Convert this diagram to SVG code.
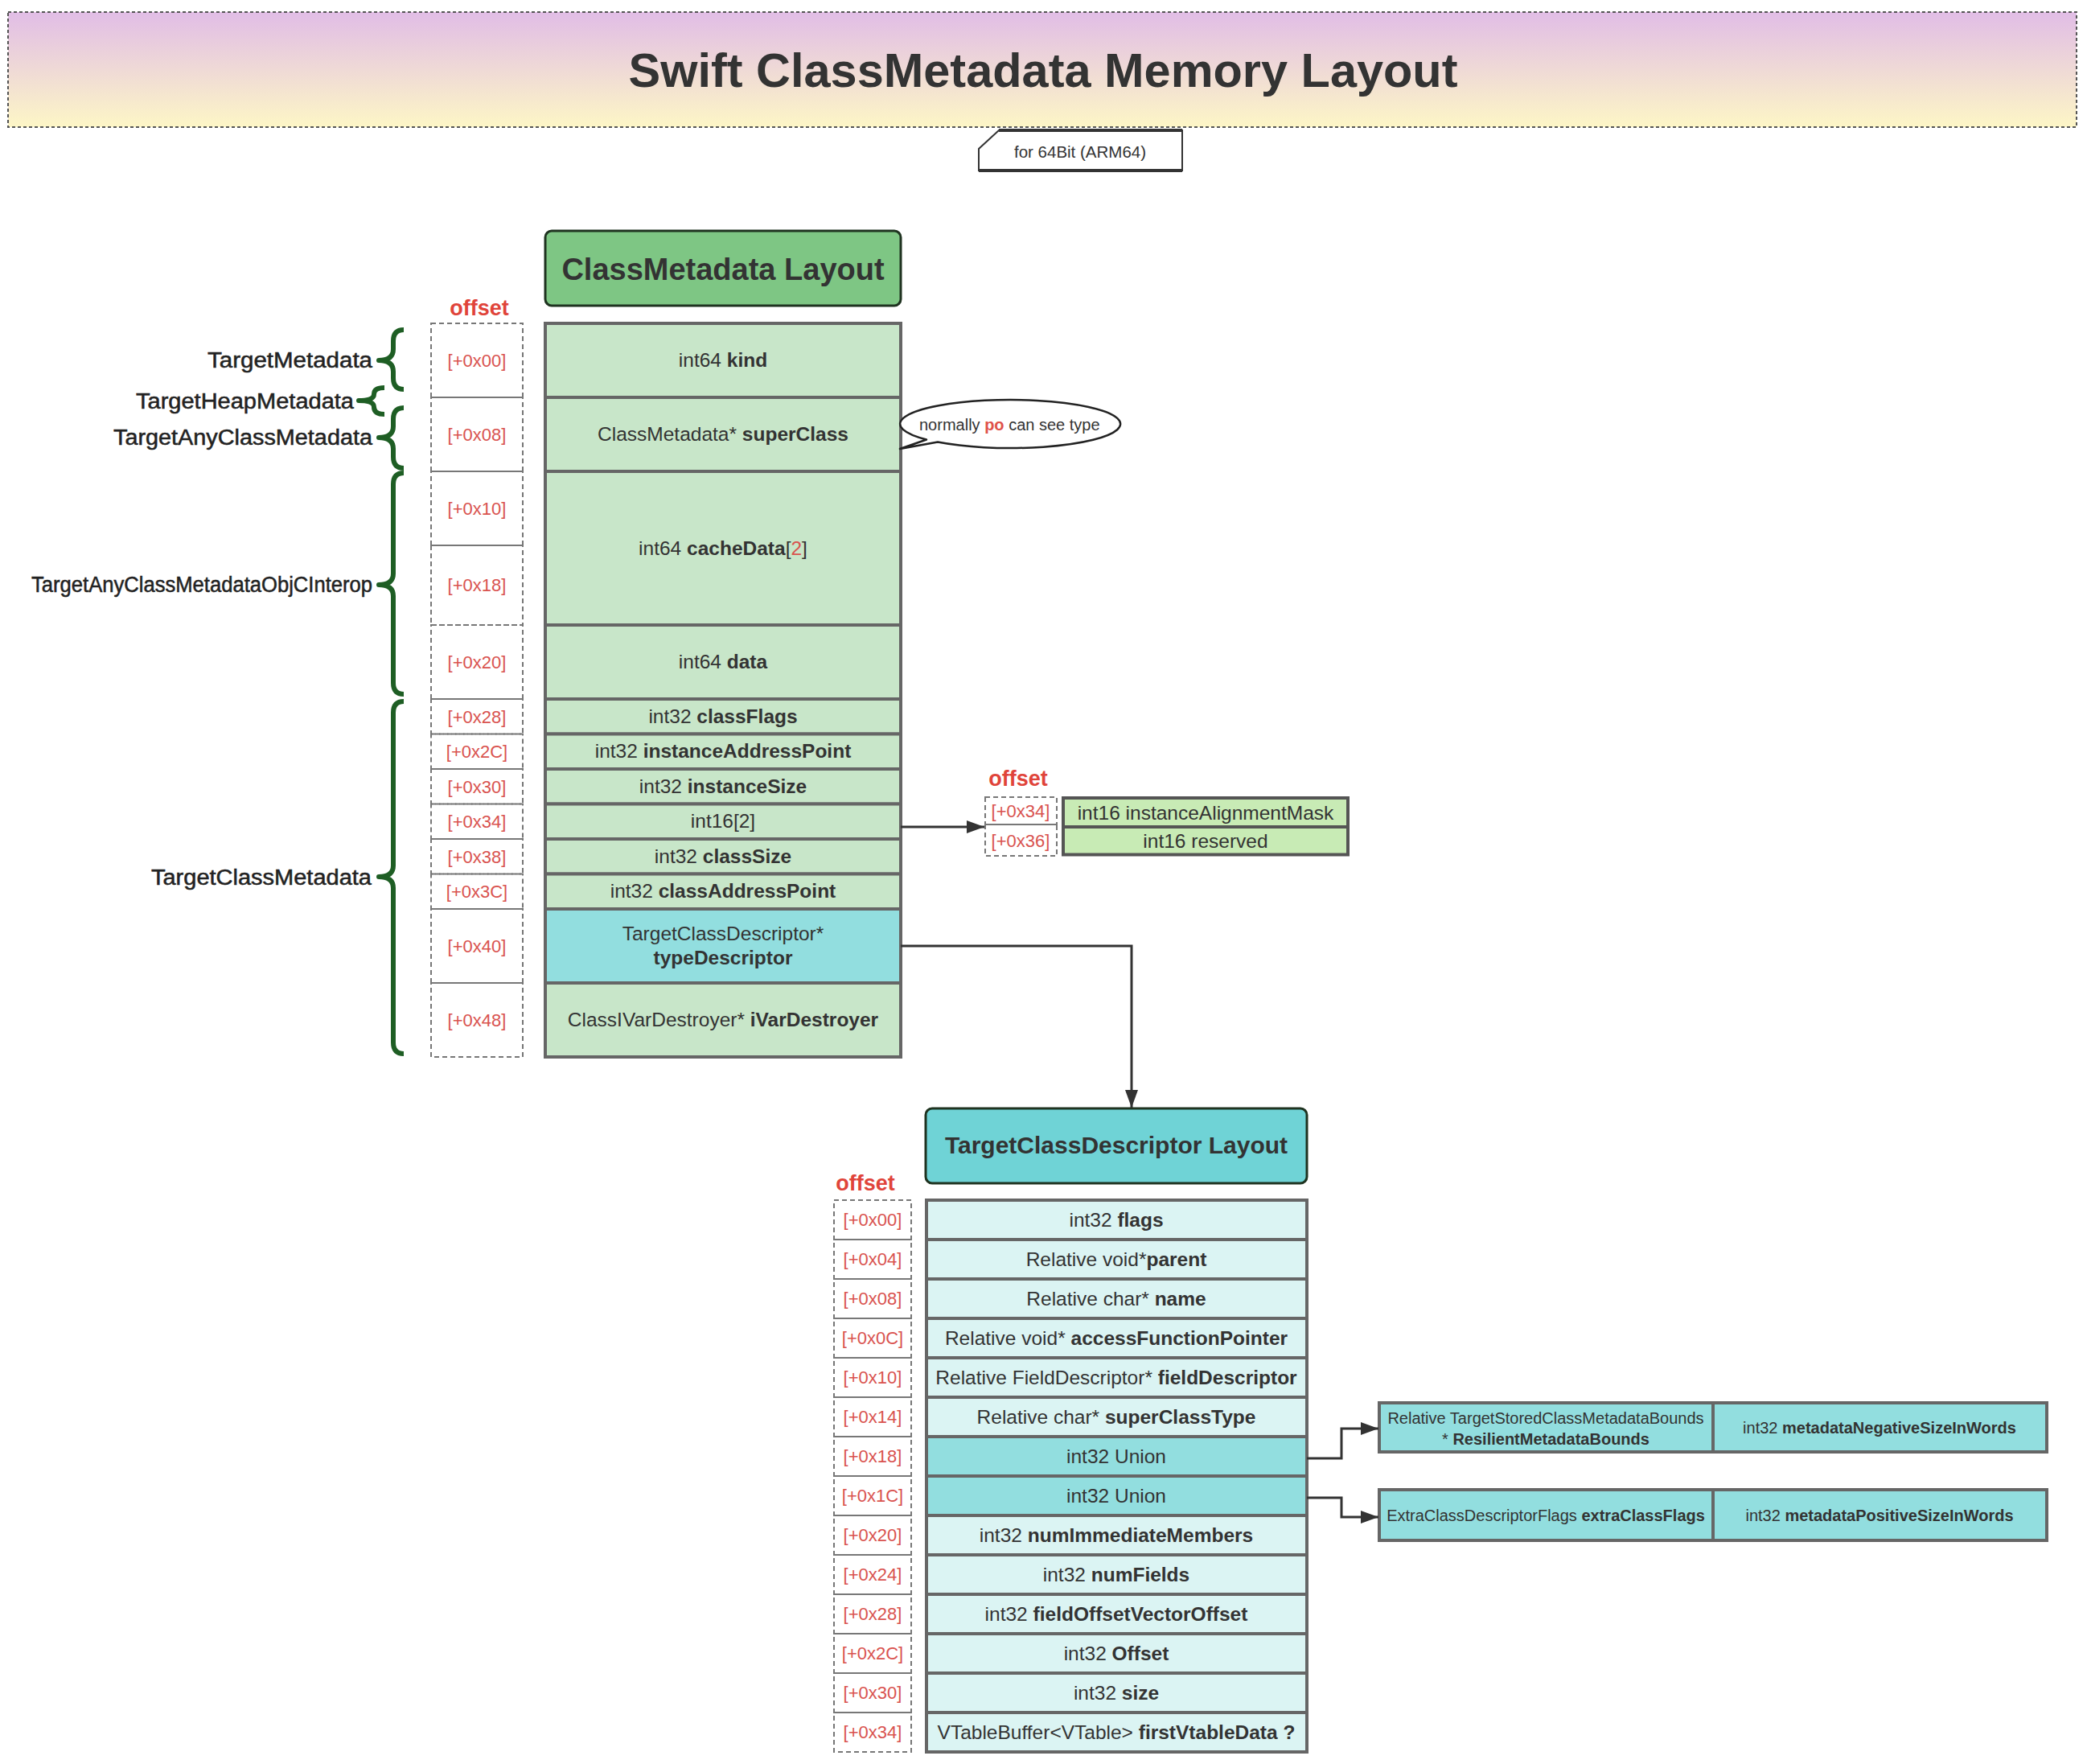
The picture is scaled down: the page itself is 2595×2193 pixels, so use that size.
<svg xmlns="http://www.w3.org/2000/svg" width="2595" height="2193" viewBox="0 0 2595 2193">
<defs>
<linearGradient id="tg" x1="0" y1="0" x2="0" y2="1">
<stop offset="0" stop-color="#E1BDE6"/>
<stop offset="1" stop-color="#FDF6C6"/>
</linearGradient>
<marker id="ah" markerUnits="userSpaceOnUse" markerWidth="22" markerHeight="16" viewBox="0 0 22 16" refX="22" refY="8" orient="auto">
<path d="M0,0 L22,8 L0,16 z" fill="#333"/>
</marker>
</defs>
<style>
text{font-family:"Liberation Sans",Arial,sans-serif;fill:#333}
.b{font-weight:bold}
.c{text-anchor:middle}
.e{text-anchor:end}
.f24{font-size:24.5px}
.f20{font-size:20px}
.lab{font-size:27px;fill:#222;stroke:#222;stroke-width:0.5}
.off{font-size:22px;fill:#D9534F}
.offh{font-size:27px;font-weight:bold;fill:#E0443A}
.red{fill:#D9534F}
.obox{fill:none;stroke:#777;stroke-width:2;stroke-dasharray:6 4}
.r1{fill:#C8E6C9;stroke:#666;stroke-width:4}
.rc{fill:#92DEDF;stroke:#666;stroke-width:4}
.r2{fill:#DBF4F3;stroke:#666;stroke-width:4}
.rs{fill:#C8EBB5;stroke:#555;stroke-width:4}
.brace{fill:none;stroke:#1E5E24;stroke-width:6;stroke-linejoin:round}
.conn{fill:none;stroke:#333;stroke-width:3}
</style>
<rect width="2595" height="2193" fill="#fff"/>

<g id="title">
<rect x="10" y="15" width="2572" height="143" fill="url(#tg)" stroke="#555" stroke-width="2" stroke-dasharray="4 3"/>
<text class="b c" x="1297" y="108" font-size="59" textLength="1031" lengthAdjust="spacingAndGlyphs">Swift ClassMetadata Memory Layout</text>
</g>

<g id="note-arch">
<path d="M1242,162 H1470 V212 H1217 V185 Z" fill="#fff" stroke="#333" stroke-width="2"/>
<path d="M1242,162 H1470 M1217,212 H1470" stroke="#333" stroke-width="4"/>
<text class="c" x="1343" y="196" font-size="20.5">for 64Bit (ARM64)</text>
</g>

<g id="labels">
<text class="lab" x="258" y="457" textLength="205" lengthAdjust="spacingAndGlyphs">TargetMetadata</text>
<text class="lab" x="169" y="508" textLength="271" lengthAdjust="spacingAndGlyphs">TargetHeapMetadata</text>
<text class="lab" x="141" y="553" textLength="322" lengthAdjust="spacingAndGlyphs">TargetAnyClassMetadata</text>
<text class="lab" x="39" y="736" textLength="424" lengthAdjust="spacingAndGlyphs">TargetAnyClassMetadataObjCInterop</text>
<text class="lab" x="188" y="1100" textLength="274" lengthAdjust="spacingAndGlyphs">TargetClassMetadata</text>
</g>
<g id="braces">
<path class="brace" d="M502,410 Q489,410 489,424 L489,434 Q489,448 471,448 Q489,448 489,462 L489,470 Q489,484 502,484"/>
<path class="brace" d="M478,482 Q465,482 465,490 Q465,498 446,498 Q465,498 465,506 Q465,515 478,515"/>
<path class="brace" d="M502,507 Q489,507 489,521 L489,530 Q489,544 471,544 Q489,544 489,558 L489,568 Q489,582 502,582"/>
<path class="brace" d="M502,588 Q489,588 489,602 L489,713 Q489,727 471,727 Q489,727 489,741 L489,849 Q489,863 502,863"/>
<path class="brace" d="M502,872 Q489,872 489,886 L489,1076 Q489,1090 471,1090 Q489,1090 489,1104 L489,1296 Q489,1310 502,1310"/>
</g>

<g id="classmetadata-header">
<rect x="678" y="287" width="442" height="93" rx="8" fill="#7EC684" stroke="#1F3320" stroke-width="3"/>
<text class="b c" x="899" y="348" font-size="38">ClassMetadata Layout</text>
</g>

<g id="classmetadata-offsets">
<text class="offh c" x="596" y="392">offset</text>
<rect class="obox" x="536" y="402" width="114" height="92"/>
<rect class="obox" x="536" y="494" width="114" height="92"/>
<rect class="obox" x="536" y="586" width="114" height="92"/>
<rect class="obox" x="536" y="678" width="114" height="99"/>
<rect class="obox" x="536" y="777" width="114" height="92"/>
<rect class="obox" x="536" y="869" width="114" height="43.5"/>
<rect class="obox" x="536" y="912.5" width="114" height="43.5"/>
<rect class="obox" x="536" y="956" width="114" height="43.5"/>
<rect class="obox" x="536" y="999.5" width="114" height="43.5"/>
<rect class="obox" x="536" y="1043" width="114" height="43.5"/>
<rect class="obox" x="536" y="1086.5" width="114" height="43.5"/>
<rect class="obox" x="536" y="1130" width="114" height="92"/>
<rect class="obox" x="536" y="1222" width="114" height="92"/>
<text class="off c" x="593" y="456">[+0x00]</text>
<text class="off c" x="593" y="548">[+0x08]</text>
<text class="off c" x="593" y="640">[+0x10]</text>
<text class="off c" x="593" y="735">[+0x18]</text>
<text class="off c" x="593" y="831">[+0x20]</text>
<text class="off c" x="593" y="899">[+0x28]</text>
<text class="off c" x="593" y="942">[+0x2C]</text>
<text class="off c" x="593" y="986">[+0x30]</text>
<text class="off c" x="593" y="1029">[+0x34]</text>
<text class="off c" x="593" y="1073">[+0x38]</text>
<text class="off c" x="593" y="1116">[+0x3C]</text>
<text class="off c" x="593" y="1184">[+0x40]</text>
<text class="off c" x="593" y="1276">[+0x48]</text>
</g>

<g id="classmetadata-table">
<rect class="r1" x="678" y="402" width="442" height="92"/>
<rect class="r1" x="678" y="494" width="442" height="92"/>
<rect class="r1" x="678" y="586" width="442" height="191"/>
<rect class="r1" x="678" y="777" width="442" height="92"/>
<rect class="r1" x="678" y="869" width="442" height="43.5"/>
<rect class="r1" x="678" y="912.5" width="442" height="43.5"/>
<rect class="r1" x="678" y="956" width="442" height="43.5"/>
<rect class="r1" x="678" y="999.5" width="442" height="43.5"/>
<rect class="r1" x="678" y="1043" width="442" height="43.5"/>
<rect class="r1" x="678" y="1086.5" width="442" height="43.5"/>
<rect class="rc" x="678" y="1130" width="442" height="92"/>
<rect class="r1" x="678" y="1222" width="442" height="92"/>
<text class="c f24" x="899" y="456">int64 <tspan class="b">kind</tspan></text>
<text class="c f24" x="899" y="548">ClassMetadata* <tspan class="b">superClass</tspan></text>
<text class="c f24" x="899" y="690">int64 <tspan class="b">cacheData</tspan>[<tspan class="red">2</tspan>]</text>
<text class="c f24" x="899" y="831">int64 <tspan class="b">data</tspan></text>
<text class="c f24" x="899" y="899">int32 <tspan class="b">classFlags</tspan></text>
<text class="c f24" x="899" y="942">int32 <tspan class="b">instanceAddressPoint</tspan></text>
<text class="c f24" x="899" y="986">int32 <tspan class="b">instanceSize</tspan></text>
<text class="c f24" x="899" y="1029">int16[2]</text>
<text class="c f24" x="899" y="1073">int32 <tspan class="b">classSize</tspan></text>
<text class="c f24" x="899" y="1116">int32 <tspan class="b">classAddressPoint</tspan></text>
<text class="c f24" x="899" y="1169">TargetClassDescriptor*</text>
<text class="c f24 b" x="899" y="1199">typeDescriptor</text>
<text class="c f24" x="899" y="1276">ClassIVarDestroyer* <tspan class="b">iVarDestroyer</tspan></text>
</g>

<g id="callout">
<path d="M1152,546.5 L1119,558 L1166,549.6 A137,30 0 1 0 1152,546.5 Z" fill="#fff" stroke="#222" stroke-width="2.5" stroke-linejoin="round"/>
<text class="f20" x="1143" y="535">normally <tspan class="b" fill="#E0524A">po</tspan> can see type</text>
</g>

<g id="int16-table">
<text class="offh c" x="1266" y="977">offset</text>
<rect class="obox" x="1225" y="991" width="89" height="34"/>
<rect class="obox" x="1225" y="1025" width="89" height="39"/>
<text class="off c" x="1269" y="1016">[+0x34]</text>
<text class="off c" x="1269" y="1053">[+0x36]</text>
<rect class="rs" x="1322" y="992" width="354" height="36"/>
<rect class="rs" x="1322" y="1028" width="354" height="34.5"/>
<text class="c" x="1499" y="1019" font-size="24.5">int16  instanceAlignmentMask</text>
<text class="c" x="1499" y="1054" font-size="24.5">int16 reserved</text>
</g>

<g id="descriptor-header">
<rect x="1151" y="1378" width="474" height="93" rx="8" fill="#6FD3D6" stroke="#1F3320" stroke-width="3"/>
<text class="b c" x="1388" y="1434" font-size="30">TargetClassDescriptor Layout</text>
</g>

<g id="descriptor-offsets">
<text class="offh c" x="1076" y="1480">offset</text>
<rect class="obox" x="1037" y="1492" width="96" height="49"/>
<rect class="obox" x="1037" y="1541" width="96" height="49"/>
<rect class="obox" x="1037" y="1590" width="96" height="49"/>
<rect class="obox" x="1037" y="1639" width="96" height="49"/>
<rect class="obox" x="1037" y="1688" width="96" height="49"/>
<rect class="obox" x="1037" y="1737" width="96" height="49"/>
<rect class="obox" x="1037" y="1786" width="96" height="49"/>
<rect class="obox" x="1037" y="1835" width="96" height="49"/>
<rect class="obox" x="1037" y="1884" width="96" height="49"/>
<rect class="obox" x="1037" y="1933" width="96" height="49"/>
<rect class="obox" x="1037" y="1982" width="96" height="49"/>
<rect class="obox" x="1037" y="2031" width="96" height="49"/>
<rect class="obox" x="1037" y="2080" width="96" height="49"/>
<rect class="obox" x="1037" y="2129" width="96" height="49"/>
<text class="off c" x="1085" y="1524">[+0x00]</text>
<text class="off c" x="1085" y="1573">[+0x04]</text>
<text class="off c" x="1085" y="1622">[+0x08]</text>
<text class="off c" x="1085" y="1671">[+0x0C]</text>
<text class="off c" x="1085" y="1720">[+0x10]</text>
<text class="off c" x="1085" y="1769">[+0x14]</text>
<text class="off c" x="1085" y="1818">[+0x18]</text>
<text class="off c" x="1085" y="1867">[+0x1C]</text>
<text class="off c" x="1085" y="1916">[+0x20]</text>
<text class="off c" x="1085" y="1965">[+0x24]</text>
<text class="off c" x="1085" y="2014">[+0x28]</text>
<text class="off c" x="1085" y="2063">[+0x2C]</text>
<text class="off c" x="1085" y="2112">[+0x30]</text>
<text class="off c" x="1085" y="2161">[+0x34]</text>
</g>

<g id="descriptor-table">
<rect class="r2" x="1152" y="1492" width="473" height="49"/>
<rect class="r2" x="1152" y="1541" width="473" height="49"/>
<rect class="r2" x="1152" y="1590" width="473" height="49"/>
<rect class="r2" x="1152" y="1639" width="473" height="49"/>
<rect class="r2" x="1152" y="1688" width="473" height="49"/>
<rect class="r2" x="1152" y="1737" width="473" height="49"/>
<rect class="rc" x="1152" y="1786" width="473" height="49"/>
<rect class="rc" x="1152" y="1835" width="473" height="49"/>
<rect class="r2" x="1152" y="1884" width="473" height="49"/>
<rect class="r2" x="1152" y="1933" width="473" height="49"/>
<rect class="r2" x="1152" y="1982" width="473" height="49"/>
<rect class="r2" x="1152" y="2031" width="473" height="49"/>
<rect class="r2" x="1152" y="2080" width="473" height="49"/>
<rect class="r2" x="1152" y="2129" width="473" height="49"/>
<text class="c f24" x="1388" y="1525">int32 <tspan class="b">flags</tspan></text>
<text class="c f24" x="1388" y="1574">Relative void*<tspan class="b">parent</tspan></text>
<text class="c f24" x="1388" y="1623">Relative char* <tspan class="b">name</tspan></text>
<text class="c f24" x="1388" y="1672">Relative void* <tspan class="b">accessFunctionPointer</tspan></text>
<text class="c f24" x="1388" y="1721">Relative FieldDescriptor* <tspan class="b">fieldDescriptor</tspan></text>
<text class="c f24" x="1388" y="1770">Relative char* <tspan class="b">superClassType</tspan></text>
<text class="c f24" x="1388" y="1819">int32 Union</text>
<text class="c f24" x="1388" y="1868">int32 Union</text>
<text class="c f24" x="1388" y="1917">int32 <tspan class="b">numImmediateMembers</tspan></text>
<text class="c f24" x="1388" y="1966">int32 <tspan class="b">numFields</tspan></text>
<text class="c f24" x="1388" y="2015">int32 <tspan class="b">fieldOffsetVectorOffset</tspan></text>
<text class="c f24" x="1388" y="2064">int32 <tspan class="b">Offset</tspan></text>
<text class="c f24" x="1388" y="2113">int32 <tspan class="b">size</tspan></text>
<text class="c f24" x="1388" y="2162">VTableBuffer&lt;VTable&gt; <tspan class="b">firstVtableData ?</tspan></text>
</g>

<g id="bounds-box">
<rect class="rc" x="1715" y="1744" width="415" height="61" stroke="#555" stroke-width="3"/>
<rect class="rc" x="2130" y="1744" width="415" height="61" stroke="#555" stroke-width="3"/>
<text class="c f20" x="1922" y="1770">Relative TargetStoredClassMetadataBounds</text>
<text class="c f20" x="1922" y="1796">* <tspan class="b">ResilientMetadataBounds</tspan></text>
<text class="c" x="2337" y="1782" font-size="20">int32 <tspan class="b">metadataNegativeSizeInWords</tspan></text>
</g>
<g id="flags-box">
<rect class="rc" x="1715" y="1852" width="415" height="63" stroke="#555" stroke-width="3"/>
<rect class="rc" x="2130" y="1852" width="415" height="63" stroke="#555" stroke-width="3"/>
<text class="c" x="1922" y="1891" font-size="20">ExtraClassDescriptorFlags <tspan class="b">extraClassFlags</tspan></text>
<text class="c" x="2337" y="1891" font-size="20">int32 <tspan class="b">metadataPositiveSizeInWords</tspan></text>
</g>

<g id="connectors">
<path class="conn" d="M1120,1028 H1224" marker-end="url(#ah)"/>
<path class="conn" d="M1120,1176 H1407 V1377" marker-end="url(#ah)"/>
<path class="conn" d="M1625,1813 H1668 V1776 H1714" marker-end="url(#ah)"/>
<path class="conn" d="M1625,1862 H1668 V1886 H1714" marker-end="url(#ah)"/>
</g>
</svg>
